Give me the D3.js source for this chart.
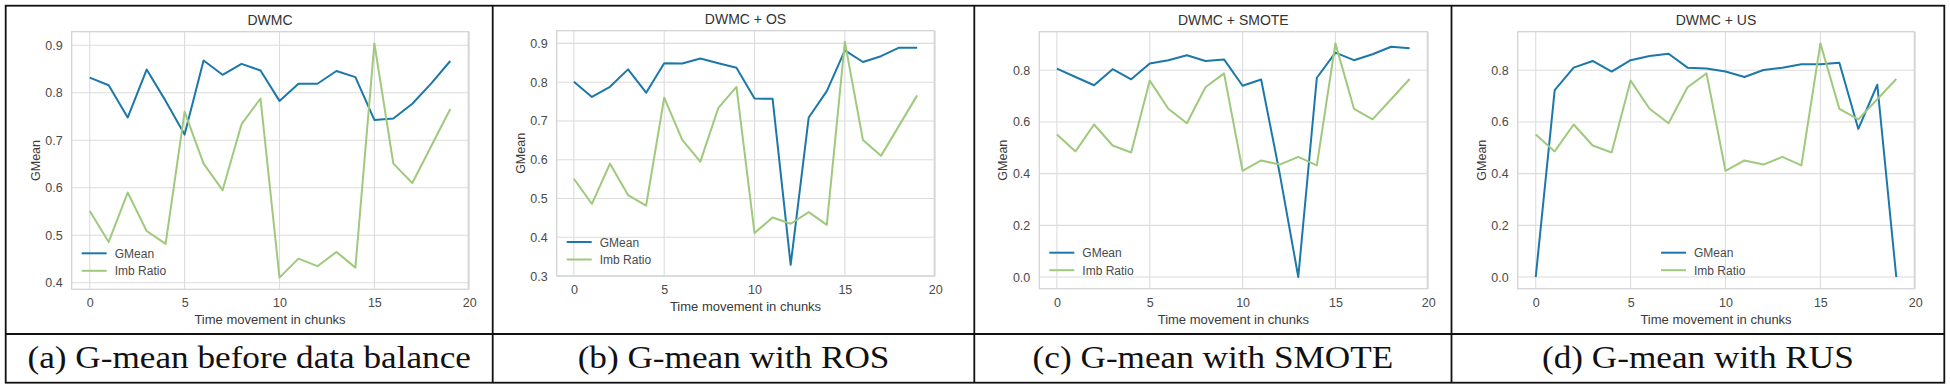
<!DOCTYPE html>
<html>
<head>
<meta charset="utf-8">
<script src="https://cdn.jsdelivr.net/npm/d3@7"></script>
<style>
  body { margin: 0; background: #fff; }
  svg { display: block; }
</style>
</head>
<body>
<div id="chart"></div>
<script>

// time chunks on the x axis
var chunks = [0, 1, 2, 3, 4, 5, 6, 7, 8, 9, 10, 11, 12, 13, 14, 15, 16, 17, 18, 19];

// imbalance ratio, same stream in every panel
var imbRatio = [0.551, 0.486, 0.590, 0.509, 0.482, 0.760, 0.651, 0.595, 0.734, 0.788,
                0.411, 0.451, 0.435, 0.465, 0.432, 0.904, 0.651, 0.610, 0.688, 0.766];

// G-mean per chunk for each setting
var gmeanDWMC  = [0.832, 0.816, 0.748, 0.849, 0.783, 0.712, 0.868, 0.838, 0.861, 0.847,
                  0.783, 0.819, 0.819, 0.846, 0.833, 0.743, 0.746, 0.777, 0.820, 0.867];
var gmeanOS    = [0.801, 0.762, 0.788, 0.833, 0.773, 0.849, 0.848, 0.861, 0.849, 0.837,
                  0.758, 0.757, 0.329, 0.709, 0.777, 0.882, 0.852, 0.867, 0.889, 0.889];
var gmeanSMOTE = [0.806, 0.774, 0.742, 0.804, 0.765, 0.826, 0.839, 0.858, 0.836, 0.842,
                  0.740, 0.764, 0.400, 0.000, 0.771, 0.868, 0.839, 0.862, 0.891, 0.885];
var gmeanUS    = [0.000, 0.723, 0.810, 0.836, 0.795, 0.839, 0.855, 0.864, 0.810, 0.807,
                  0.795, 0.774, 0.801, 0.810, 0.823, 0.823, 0.829, 0.573, 0.744, 0.000];

var titles   = ["DWMC", "DWMC + OS", "DWMC + SMOTE", "DWMC + US"];
var captions = ["(a) G-mean before data balance", "(b) G-mean with ROS",
                "(c) G-mean with SMOTE", "(d) G-mean with RUS"];
var seriesNames = ["GMean", "Imb Ratio"];

var xTicks = [0, 5, 10, 15, 20];
var yTicksA = [0.4, 0.5, 0.6, 0.7, 0.8, 0.9];
var yTicksB = [0.3, 0.4, 0.5, 0.6, 0.7, 0.8, 0.9];
var yTicksC = [0.0, 0.2, 0.4, 0.6, 0.8];

var gmeans = [gmeanDWMC, gmeanOS, gmeanSMOTE, gmeanUS];
var yTicksAll = [yTicksA, yTicksB, yTicksC, yTicksC];

// ---- layout ----
var W = 1950, H = 389;
var tableTop = 5.7, tableBottom = 382.7, rowSplit = 334;
var cellEdges = [5.7, 492.7, 974.3, 1451.5, 1944.3];
// plot area of each panel: left, right, top, bottom
var plots = [
  [71.7, 468.3, 31.7, 289.3],
  [556.7, 934.3, 30.7, 276],
  [1039.3, 1427.3, 31.7, 288.7],
  [1517.7, 1914.3, 31.7, 288.7]
];
var legendCorner = ["left", "left", "left", "center"];

var blue = "#1b78a9", green = "#9fc97d";
var colors = [blue, green];

var svg = d3.select("#chart").append("svg")
  .attr("width", W)
  .attr("height", H);

function drawPanel(i) {
  var p = plots[i];
  var left = p[0], right = p[1], top = p[2], bottom = p[3];
  var series = [gmeans[i], imbRatio];

  var all = gmeans[i].concat(imbRatio);
  var lo = d3.min(all), hi = d3.max(all), pad = (hi - lo) * 0.05;

  var x = d3.scaleLinear().domain([-0.95, 19.95]).range([left, right]);
  var y = d3.scaleLinear().domain([lo - pad, hi + pad]).range([bottom, top]);

  var g = svg.append("g").attr("class", "panel");

  // grid
  g.selectAll(".vgrid").data(xTicks).enter().append("line")
    .attr("x1", function(d) { return x(d); })
    .attr("x2", function(d) { return x(d); })
    .attr("y1", top).attr("y2", bottom)
    .attr("stroke", "#dcdcdc").attr("stroke-width", 1.1);
  g.selectAll(".hgrid").data(yTicksAll[i]).enter().append("line")
    .attr("y1", function(d) { return y(d); })
    .attr("y2", function(d) { return y(d); })
    .attr("x1", left).attr("x2", right)
    .attr("stroke", "#dcdcdc").attr("stroke-width", 1.1);

  // frame
  g.append("rect")
    .attr("x", left).attr("y", top)
    .attr("width", right - left).attr("height", bottom - top)
    .attr("fill", "none").attr("stroke", "#d4d4d4").attr("stroke-width", 1.3);

  // axes (ticks hidden, just labels)
  var xAxis = d3.axisBottom(x).tickValues(xTicks).tickSize(0).tickPadding(9)
    .tickFormat(d3.format("d"));
  var yAxis = d3.axisLeft(y).tickValues(yTicksAll[i]).tickSize(0).tickPadding(9)
    .tickFormat(d3.format(".1f"));

  var gx = g.append("g").attr("transform", "translate(0," + bottom + ")").call(xAxis);
  var gy = g.append("g").attr("transform", "translate(" + left + ",0)").call(yAxis);
  [gx, gy].forEach(function(ax) {
    ax.select(".domain").remove();
    ax.selectAll("text")
      .attr("font-family", "Liberation Sans, Arial, sans-serif")
      .attr("font-size", "12.5px")
      .attr("fill", "#4a4a4a");
  });

  // lines
  var line = d3.line()
    .x(function(d, j) { return x(chunks[j]); })
    .y(function(d) { return y(d); });

  series.forEach(function(s, k) {
    g.append("path")
      .datum(s)
      .attr("d", line)
      .attr("fill", "none")
      .attr("stroke", colors[k])
      .attr("stroke-width", 2)
      .attr("stroke-linejoin", "round");
  });

  // title and labels
  g.append("text")
    .attr("x", (left + right) / 2).attr("y", top - 7)
    .attr("text-anchor", "middle")
    .attr("font-family", "Liberation Sans, Arial, sans-serif")
    .attr("font-size", "14px").attr("fill", "#333")
    .text(titles[i]);

  g.append("text")
    .attr("x", (left + right) / 2).attr("y", bottom + 35)
    .attr("text-anchor", "middle")
    .attr("font-family", "Liberation Sans, Arial, sans-serif")
    .attr("font-size", "13px").attr("fill", "#3a3a3a")
    .text("Time movement in chunks");

  g.append("text")
    .attr("transform", "translate(" + (left - 32) + "," + ((top + bottom) / 2) + ") rotate(-90)")
    .attr("text-anchor", "middle")
    .attr("font-family", "Liberation Sans, Arial, sans-serif")
    .attr("font-size", "12.5px").attr("fill", "#3a3a3a")
    .text("GMean");

  // legend
  var lx = legendCorner[i] == "left" ? left + 10 : (left + right) / 2 - 55;
  var ly = bottom - (i == 1 ? 34 : 36);
  var legend = g.selectAll(".legend").data(seriesNames).enter().append("g")
    .attr("transform", function(d, k) { return "translate(" + lx + "," + (ly + k * 17.5) + ")"; });
  legend.append("line")
    .attr("x1", 0).attr("x2", 25).attr("y1", 0).attr("y2", 0)
    .attr("stroke", function(d, k) { return colors[k]; })
    .attr("stroke-width", 2);
  legend.append("text")
    .attr("x", 33).attr("y", 4.5)
    .attr("font-family", "Liberation Sans, Arial, sans-serif")
    .attr("font-size", "12px").attr("fill", "#4a4a4a")
    .text(function(d) { return d; });
}

for (var i = 0; i < 4; i++) drawPanel(i);

// captions (Palatino-like width: stretch the serif a little)
svg.selectAll(".caption").data(captions).enter().append("text")
  .attr("transform", function(d, i) {
    return "translate(" + ((cellEdges[i] + cellEdges[i + 1]) / 2) + ",368) scale(1.1,1)";
  })
  .attr("text-anchor", "middle")
  .attr("font-family", "Liberation Serif, 'Times New Roman', serif")
  .attr("font-size", "32px").attr("fill", "#111")
  .text(function(d) { return d; });

// table borders
svg.append("rect")
  .attr("x", tableTop).attr("y", tableTop)
  .attr("width", cellEdges[4] - cellEdges[0]).attr("height", tableBottom - tableTop)
  .attr("fill", "none").attr("stroke", "#111").attr("stroke-width", 1.8);
svg.append("line")
  .attr("x1", cellEdges[0]).attr("x2", cellEdges[4])
  .attr("y1", rowSplit).attr("y2", rowSplit)
  .attr("stroke", "#111").attr("stroke-width", 1.8);
svg.selectAll(".vsplit").data(cellEdges.slice(1, 4)).enter().append("line")
  .attr("x1", function(d) { return d; }).attr("x2", function(d) { return d; })
  .attr("y1", tableTop).attr("y2", tableBottom)
  .attr("stroke", "#111").attr("stroke-width", 1.8);

</script>
</body>
</html>
